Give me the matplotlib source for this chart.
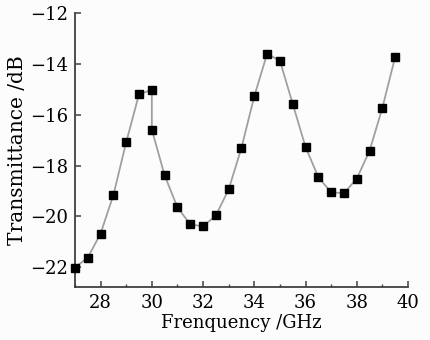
import matplotlib
matplotlib.use('Agg')
import matplotlib.pyplot as plt
from matplotlib.ticker import MultipleLocator

# Frekans (GHz) ve iletim (dB) degerleri
frekans = [27.0, 27.5, 28.0, 28.5, 29.0, 29.5, 30.0, 30.0, 30.5, 31.0, 31.5, 32.0,
           32.5, 33.0, 33.5, 34.0, 34.5, 35.0, 35.5, 36.0, 36.5, 37.0, 37.5, 38.0,
           38.5, 39.0, 39.5]
iletim = [-22.02, -21.63, -20.68, -19.16, -17.08, -15.19, -15.02, -16.59, -18.39,
          -19.65, -20.32, -20.40, -19.97, -18.94, -17.30, -15.27, -13.60, -13.87,
          -15.57, -17.27, -18.46, -19.06, -19.09, -18.52, -17.42, -15.73, -13.72]

x_ticks = [28, 30, 32, 34, 36, 38, 40]
y_ticks = [-22, -20, -18, -16, -14, -12]

plt.rcParams['font.family'] = ['DejaVu Serif']

fig = plt.figure(figsize=(4.31, 3.40), dpi=100, facecolor='#fcfcfc')
ax = fig.add_axes([0.174, 0.155, 0.7726, 0.806])
ax.set_facecolor('#fcfcfc')

ax.plot(frekans, iletim, color='#a0a0a0', lw=1.3, marker='s', ms=5.8,
        mfc='black', mec='black', zorder=3, clip_on=False)

ax.set_xlim(27, 40)
ax.set_ylim(-22.8, -12)
ax.set_xticks(x_ticks)
ax.set_yticks(y_ticks)
ax.set_xticklabels([str(v) for v in x_ticks])
ax.set_yticklabels(['\u2212' + str(-v) for v in y_ticks])
ax.xaxis.set_minor_locator(MultipleLocator(1))

for s in ['top', 'right']:
    ax.spines[s].set_visible(False)
for s in ['left', 'bottom']:
    ax.spines[s].set_color('#404040')
    ax.spines[s].set_linewidth(1.3)

ax.tick_params(which='major', direction='in', length=4, width=1.1, color='#404040',
               labelsize=13, pad=5)
ax.tick_params(which='minor', direction='in', length=2.5, width=1.0, color='#404040')

ax.set_xlabel('Frenquency /GHz', fontsize=13, labelpad=1)
ax.set_ylabel('Transmittance /dB', fontsize=14.5, labelpad=2)

fig.savefig('out.png', dpi=100, facecolor='#fcfcfc')
